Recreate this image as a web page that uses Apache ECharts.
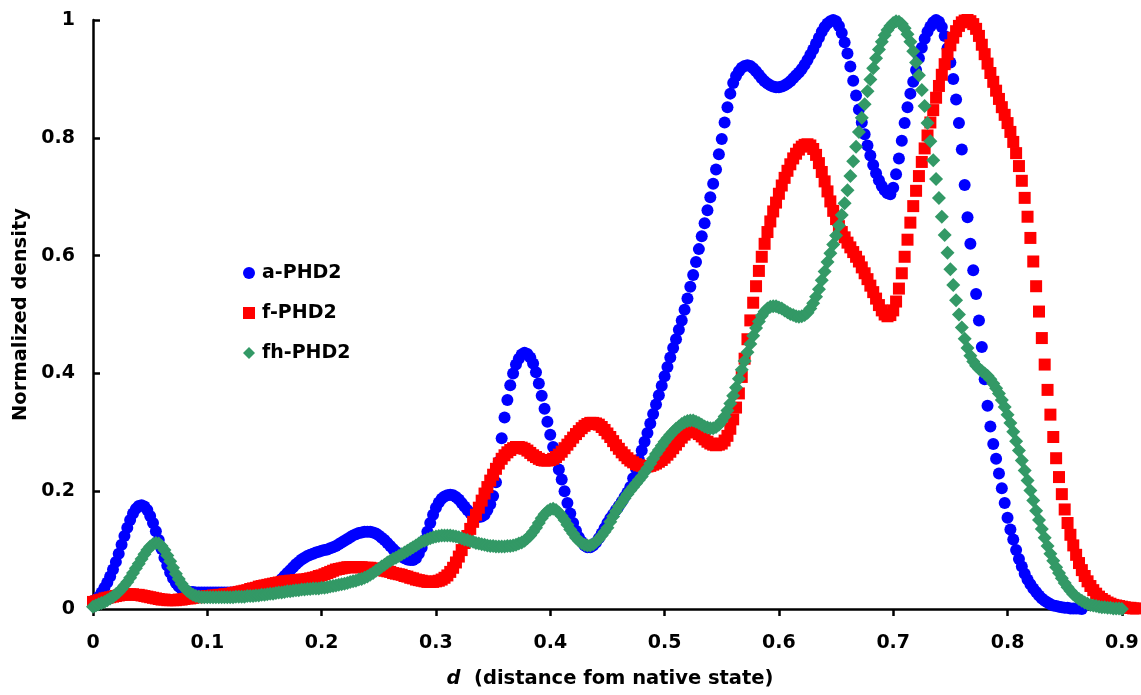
<!DOCTYPE html>
<html><head><meta charset="utf-8">
<script src="https://cdn.jsdelivr.net/npm/echarts@6/dist/echarts.min.js"></script>
<style>html,body{margin:0;padding:0;background:#fff}#c{width:1141px;height:695px}</style>
</head><body><div id="c"></div>
<script>
// Sampling grid of d (distance from native state)
const dStart = 0;
const dStep = 0.0025;

// a-PHD2 (blue circles), d = 0 ... 0.865
const aPHD2 = [
0.012,0.016,0.021,0.028,0.036,0.045,0.055,0.067,0.080,0.094,0.109,0.124,0.138,0.151,0.162,0.170,0.175,0.176,0.174,0.168,
0.158,0.146,0.132,0.117,0.102,0.087,0.074,0.062,0.052,0.044,0.038,0.034,0.031,0.030,0.029,0.029,0.028,0.028,0.028,0.028,
0.028,0.028,0.028,0.028,0.028,0.028,0.028,0.028,0.028,0.028,0.028,0.028,0.028,0.028,0.028,0.028,0.029,0.029,0.030,0.030,
0.031,0.033,0.035,0.038,0.042,0.046,0.051,0.056,0.061,0.066,0.071,0.076,0.080,0.084,0.087,0.090,0.092,0.094,0.096,0.097,
0.099,0.100,0.101,0.103,0.105,0.107,0.110,0.113,0.116,0.119,0.122,0.125,0.127,0.129,0.130,0.131,0.131,0.131,0.130,0.128,
0.125,0.121,0.117,0.112,0.107,0.102,0.097,0.093,0.089,0.086,0.084,0.083,0.083,0.086,0.094,0.104,0.117,0.131,0.146,0.160,
0.172,0.181,0.187,0.191,0.193,0.194,0.193,0.190,0.186,0.180,0.174,0.168,0.163,0.159,0.157,0.156,0.157,0.160,0.168,0.178,
0.192,0.215,0.250,0.290,0.325,0.355,0.380,0.400,0.415,0.425,0.432,0.435,0.433,0.427,0.417,0.402,0.383,0.362,0.340,0.318,
0.296,0.275,0.255,0.237,0.220,0.200,0.180,0.162,0.146,0.133,0.122,0.114,0.108,0.105,0.105,0.108,0.113,0.120,0.128,0.137,
0.146,0.154,0.161,0.168,0.175,0.182,0.190,0.198,0.207,0.222,0.238,0.254,0.269,0.284,0.299,0.315,0.331,0.347,0.363,0.379,
0.395,0.411,0.427,0.443,0.458,0.474,0.490,0.508,0.527,0.547,0.567,0.589,0.611,0.633,0.655,0.677,0.699,0.722,0.746,0.772,
0.798,0.826,0.852,0.875,0.893,0.905,0.913,0.919,0.922,0.923,0.922,0.918,0.913,0.907,0.901,0.896,0.892,0.889,0.887,0.886,
0.886,0.887,0.889,0.892,0.896,0.901,0.906,0.911,0.917,0.924,0.932,0.941,0.950,0.960,0.970,0.980,0.988,0.994,0.998,1.000,
0.998,0.990,0.978,0.962,0.943,0.921,0.897,0.872,0.848,0.826,0.806,0.787,0.770,0.754,0.740,0.728,0.718,0.711,0.706,0.704,
0.715,0.738,0.765,0.795,0.825,0.852,0.875,0.895,0.915,0.935,0.953,0.968,0.980,0.989,0.996,1.000,0.997,0.988,0.973,0.952,
0.928,0.900,0.865,0.825,0.780,0.720,0.665,0.620,0.575,0.535,0.490,0.445,0.390,0.345,0.310,0.280,0.255,0.230,0.205,0.180,
0.155,0.135,0.118,0.100,0.085,0.072,0.060,0.050,0.042,0.035,0.029,0.023,0.018,0.014,0.011,0.008,0.006,0.005,0.004,0.003,
0.002,0.002,0.001,0.001,0.001,0.001,0.000
];

// f-PHD2 (red squares), d = 0 ... 0.9125
const fPHD2 = [
0.012,0.013,0.015,0.016,0.018,0.019,0.020,0.021,0.022,0.023,0.024,0.024,0.025,0.025,0.025,0.024,0.024,0.023,0.022,0.021,
0.020,0.019,0.018,0.017,0.016,0.016,0.015,0.015,0.015,0.015,0.016,0.016,0.017,0.018,0.018,0.019,0.020,0.020,0.021,0.021,
0.022,0.022,0.023,0.023,0.024,0.024,0.025,0.025,0.026,0.027,0.028,0.029,0.030,0.031,0.032,0.034,0.035,0.036,0.038,0.039,
0.040,0.041,0.042,0.043,0.044,0.045,0.046,0.047,0.047,0.048,0.048,0.049,0.049,0.050,0.050,0.051,0.052,0.053,0.054,0.056,
0.057,0.059,0.061,0.063,0.065,0.067,0.068,0.069,0.070,0.071,0.071,0.071,0.071,0.071,0.071,0.070,0.070,0.070,0.069,0.068,
0.067,0.066,0.065,0.064,0.063,0.061,0.060,0.059,0.058,0.056,0.055,0.053,0.052,0.050,0.049,0.048,0.047,0.046,0.046,0.046,
0.047,0.048,0.050,0.053,0.057,0.063,0.070,0.079,0.089,0.100,0.112,0.124,0.136,0.148,0.160,0.172,0.184,0.196,0.207,0.218,
0.228,0.238,0.247,0.255,0.261,0.266,0.270,0.273,0.275,0.275,0.274,0.272,0.269,0.265,0.261,0.258,0.255,0.253,0.252,0.252,
0.253,0.255,0.258,0.262,0.267,0.273,0.279,0.285,0.291,0.297,0.302,0.307,0.311,0.314,0.316,0.316,0.315,0.313,0.309,0.304,
0.298,0.292,0.285,0.278,0.272,0.266,0.261,0.256,0.252,0.249,0.246,0.244,0.243,0.242,0.242,0.243,0.245,0.247,0.250,0.253,
0.257,0.262,0.267,0.273,0.279,0.285,0.291,0.296,0.300,0.302,0.302,0.300,0.297,0.293,0.288,0.284,0.281,0.279,0.278,0.279,
0.281,0.286,0.294,0.306,0.322,0.342,0.366,0.394,0.425,0.458,0.490,0.520,0.548,0.574,0.598,0.620,0.640,0.658,0.675,0.690,
0.705,0.719,0.732,0.744,0.755,0.765,0.773,0.780,0.785,0.788,0.789,0.787,0.781,0.771,0.757,0.742,0.726,0.709,0.692,0.676,
0.662,0.650,0.640,0.631,0.622,0.614,0.606,0.598,0.590,0.580,0.570,0.560,0.549,0.538,0.527,0.516,0.507,0.500,0.497,0.499,
0.507,0.522,0.544,0.570,0.598,0.627,0.656,0.684,0.710,0.735,0.759,0.782,0.804,0.826,0.847,0.868,0.888,0.907,0.925,0.942,
0.957,0.970,0.981,0.990,0.996,0.999,1.000,0.998,0.993,0.985,0.973,0.958,0.942,0.926,0.910,0.895,0.880,0.866,0.852,0.839,
0.825,0.810,0.793,0.774,0.752,0.727,0.698,0.666,0.630,0.590,0.548,0.505,0.460,0.415,0.372,0.330,0.292,0.256,0.224,0.195,
0.169,0.146,0.126,0.108,0.092,0.078,0.066,0.056,0.047,0.039,0.032,0.026,0.021,0.017,0.014,0.011,0.009,0.007,0.006,0.005,
0.004,0.003,0.002,0.002,0.001,0.001
];

// fh-PHD2 (green diamonds), d = 0 ... 0.9
const fhPHD2 = [
0.004,0.006,0.008,0.010,0.012,0.015,0.018,0.021,0.025,0.029,0.034,0.040,0.046,0.053,0.061,0.069,0.077,0.085,0.093,0.100,
0.106,0.110,0.112,0.111,0.107,0.100,0.091,0.081,0.070,0.060,0.051,0.043,0.036,0.031,0.027,0.024,0.022,0.021,0.020,0.020,
0.020,0.020,0.020,0.020,0.020,0.020,0.020,0.020,0.020,0.020,0.021,0.021,0.021,0.021,0.022,0.022,0.022,0.023,0.023,0.024,
0.024,0.025,0.026,0.026,0.027,0.028,0.028,0.029,0.030,0.030,0.031,0.032,0.032,0.033,0.033,0.034,0.034,0.035,0.035,0.035,
0.036,0.036,0.037,0.038,0.039,0.040,0.041,0.042,0.043,0.044,0.046,0.047,0.048,0.050,0.051,0.053,0.055,0.058,0.061,0.065,
0.068,0.072,0.075,0.079,0.082,0.085,0.087,0.090,0.093,0.096,0.099,0.102,0.105,0.108,0.111,0.114,0.116,0.118,0.120,0.122,
0.123,0.124,0.125,0.125,0.125,0.125,0.124,0.123,0.122,0.120,0.118,0.117,0.115,0.114,0.112,0.111,0.110,0.109,0.108,0.107,
0.107,0.106,0.106,0.106,0.106,0.107,0.107,0.108,0.109,0.111,0.113,0.116,0.120,0.125,0.131,0.138,0.146,0.154,0.161,0.166,
0.169,0.170,0.168,0.164,0.158,0.151,0.143,0.135,0.128,0.121,0.116,0.112,0.109,0.108,0.108,0.110,0.114,0.119,0.125,0.131,
0.138,0.148,0.157,0.166,0.174,0.181,0.188,0.195,0.201,0.207,0.213,0.219,0.225,0.232,0.239,0.247,0.255,0.263,0.270,0.277,
0.284,0.290,0.296,0.301,0.306,0.310,0.314,0.317,0.319,0.320,0.320,0.318,0.316,0.313,0.310,0.308,0.307,0.307,0.309,0.313,
0.319,0.327,0.337,0.349,0.362,0.376,0.391,0.406,0.421,0.436,0.450,0.464,0.477,0.488,0.498,0.505,0.510,0.513,0.514,0.514,
0.512,0.510,0.507,0.504,0.501,0.499,0.497,0.496,0.497,0.499,0.503,0.510,0.519,0.530,0.543,0.558,0.573,0.589,0.604,0.619,
0.634,0.651,0.669,0.689,0.711,0.735,0.760,0.785,0.810,0.834,0.857,0.879,0.899,0.918,0.935,0.950,0.963,0.974,0.983,0.990,
0.995,0.998,0.997,0.993,0.986,0.976,0.963,0.947,0.928,0.906,0.881,0.854,0.825,0.794,0.762,0.730,0.698,0.666,0.635,0.605,
0.577,0.550,0.524,0.500,0.478,0.459,0.443,0.430,0.420,0.413,0.408,0.404,0.400,0.396,0.390,0.383,0.375,0.366,0.355,0.343,
0.330,0.316,0.301,0.285,0.269,0.252,0.235,0.218,0.201,0.184,0.167,0.151,0.136,0.121,0.107,0.094,0.082,0.071,0.061,0.052,
0.044,0.037,0.031,0.025,0.021,0.017,0.014,0.011,0.009,0.007,0.006,0.005,0.004,0.003,0.003,0.002,0.002,0.001,0.001,0.001,
0.000
];

const seriesNames = ['a-PHD2', 'f-PHD2', 'fh-PHD2'];
const xTicks = [0, 0.1, 0.2, 0.3, 0.4, 0.5, 0.6, 0.7, 0.8, 0.9];
const yTicks = [0, 0.2, 0.4, 0.6, 0.8, 1];

const toPairs = arr => arr.map((v, i) => [+(dStart + i * dStep).toFixed(4), v]);

const FONT = '"DejaVu Sans", "Liberation Sans", Arial, sans-serif';
const chart = echarts.init(document.getElementById('c'), null, {renderer: 'canvas'});
chart.setOption({
  animation: false,
  backgroundColor: '#ffffff',
  textStyle: {fontFamily: FONT},
  grid: {left: 93, right: 2, top: 20, bottom: 86, containLabel: false, outerBoundsMode: 'none'},
  legend: {
    orient: 'vertical',
    left: 238, top: 258,
    itemWidth: 12, itemHeight: 12, itemGap: 20,
    textStyle: {fontFamily: FONT, fontWeight: 'bold', fontSize: 19, color: '#000', lineHeight: 20, padding: [0, 0, 0, 2]},
    data: seriesNames
  },
  xAxis: {
    type: 'value', min: 0, max: 0.915, interval: 0.1,
    name: '{i|d}  (distance fom native state)',
    nameLocation: 'middle', nameGap: 60,
    nameTextStyle: {
      fontFamily: FONT, fontWeight: 'bold', fontSize: 19.5, color: '#000', padding: [0, 12, 0, 0],
      rich: {i: {fontFamily: FONT, fontWeight: 'bold', fontStyle: 'italic', fontSize: 19.5, color: '#000'}}
    },
    axisLine: {onZero: false, lineStyle: {color: '#000', width: 2.5}},
    axisTick: {show: true, inside: false, length: 7, lineStyle: {color: '#000', width: 2.5}, customValues: xTicks},
    axisLabel: {customValues: xTicks, margin: 25, fontFamily: FONT, fontWeight: 'bold', fontSize: 19, color: '#000'},
    splitLine: {show: false}
  },
  yAxis: {
    type: 'value', min: 0, max: 1, interval: 0.2,
    name: 'Normalized density',
    nameLocation: 'middle', nameGap: 62, nameRotate: 90,
    nameTextStyle: {fontFamily: FONT, fontWeight: 'bold', fontSize: 19.5, color: '#000'},
    axisLine: {show: true, lineStyle: {color: '#000', width: 2.5}},
    axisTick: {show: true, inside: true, length: 7, lineStyle: {color: '#000', width: 2.5}, customValues: yTicks},
    axisLabel: {customValues: yTicks, margin: 18, fontFamily: FONT, fontWeight: 'bold', fontSize: 19, color: '#000'},
    splitLine: {show: false}
  },
  series: [
    {name: seriesNames[0], type: 'scatter', symbol: 'circle', symbolSize: 12, z: 2,
     itemStyle: {color: '#0000ff', opacity: 1}, data: toPairs(aPHD2)},
    {name: seriesNames[1], type: 'scatter', symbol: 'rect', symbolSize: 12, z: 3,
     itemStyle: {color: '#ff0000', opacity: 1}, data: toPairs(fPHD2)},
    {name: seriesNames[2], type: 'scatter', symbol: 'diamond', symbolSize: 14, z: 4,
     itemStyle: {color: '#339966', opacity: 1}, data: toPairs(fhPHD2)}
  ]
});
</script>
</body></html>
